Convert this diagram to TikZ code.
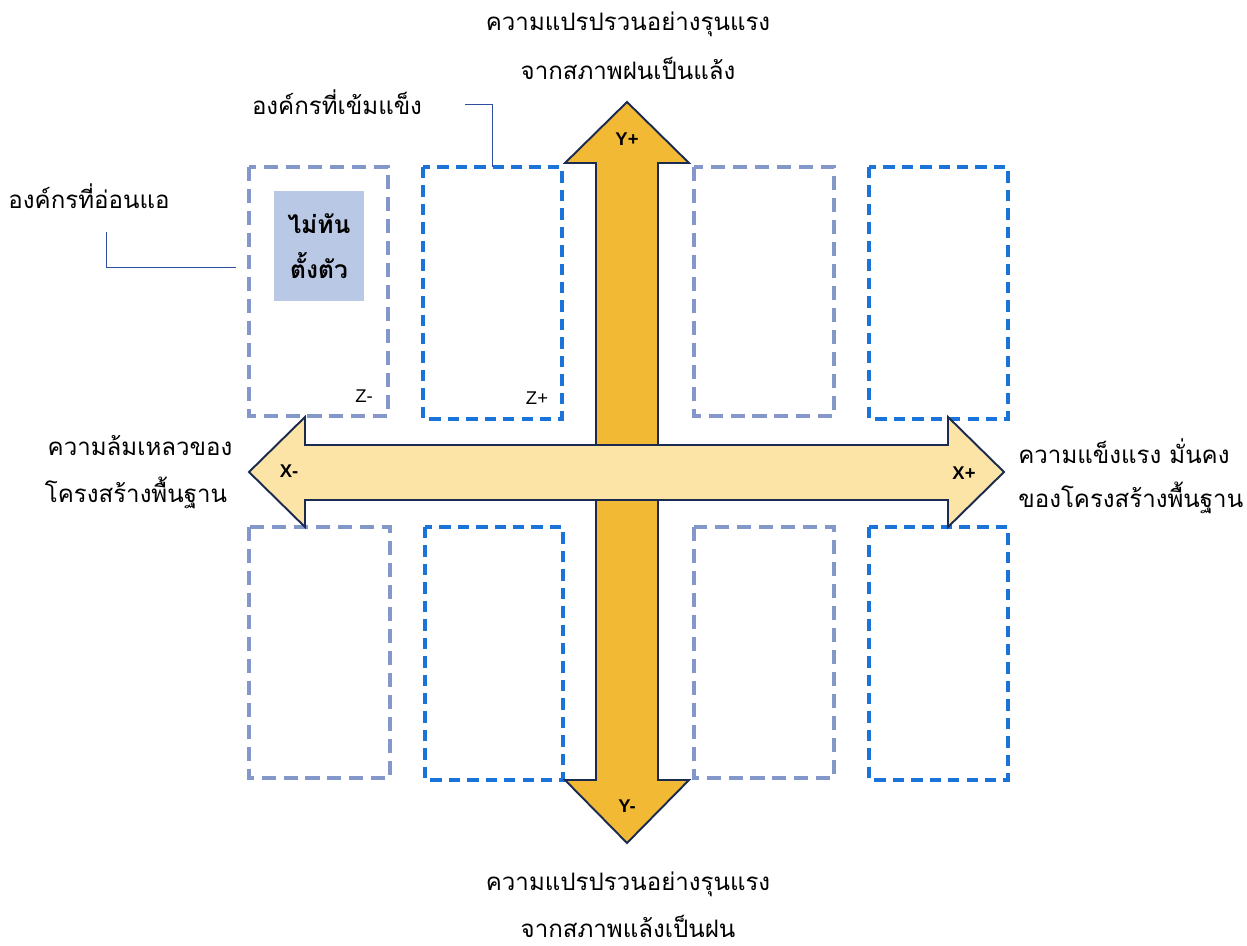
\documentclass[tikz,border=0pt]{standalone}
\usepackage{fontspec}
\newfontfamily\thai[Script=Thai]{Loma}
\newfontfamily\lat{Liberation Sans}
\definecolor{vfill}{HTML}{F2B935}
\definecolor{hfill}{HTML}{FCE4A6}
\definecolor{aline}{HTML}{1B2A50}
\definecolor{lightdash}{HTML}{8497CA}
\definecolor{bluedash}{HTML}{1A73D9}
\definecolor{greybox}{HTML}{B9C8E4}
\definecolor{callout}{HTML}{2F4FA0}
\begin{document}
\begin{tikzpicture}[x=0.02cm,y=-0.02cm,
  lightbox/.style={draw=lightdash,line width=1.8pt,dash pattern=on 8pt off 4.5pt},
  bluebox/.style={draw=bluedash,line width=2.1pt,dash pattern=on 6.5pt off 4pt},
  arrowshape/.style={draw=aline,line width=1.1pt,line join=miter},
  thaitext/.style={font=\thai\fontsize{13.7}{16}\selectfont,inner sep=0pt},
  axislabel/.style={font=\lat\bfseries\fontsize{10.5}{12}\selectfont,inner sep=0pt},
  zlabel/.style={font=\lat\fontsize{10.5}{12}\selectfont,inner sep=0pt},
  calloutline/.style={draw=callout,line width=0.5pt}]
\useasboundingbox (0,0) rectangle (1247,946);
% boxes
\draw[lightbox] (249,167) rectangle (388,416);
\draw[bluebox] (423,167) rectangle (562,419);
\draw[lightbox] (694,167) rectangle (834,416);
\draw[bluebox] (869,167) rectangle (1008,419);
\draw[lightbox] (249,527) rectangle (390,778);
\draw[bluebox] (425,527) rectangle (563,780);
\draw[lightbox] (694,527) rectangle (834,778);
\draw[bluebox] (869,527) rectangle (1008,780);
% grey box
\node[fill=greybox,minimum width=90*0.02cm,minimum height=110*0.02cm,inner sep=0pt,
  font=\thai\bfseries\fontsize{14}{26}\selectfont,align=center] (nottime) at (319,246) {ไม่ทัน\\ตั้งตัว};
% vertical arrow
\draw[arrowshape,fill=vfill] (627,102) -- (689,163) -- (658,163) -- (658,780) -- (689,780) -- (627,843)
  -- (565,780) -- (596,780) -- (596,163) -- (565,163) -- cycle;
% horizontal arrow
\draw[arrowshape,fill=hfill] (249,472) -- (305,417) -- (305,445) -- (948,445) -- (948,417) -- (1004,472)
  -- (948,527) -- (948,500) -- (305,500) -- (305,527) -- cycle;
% axis labels
\node[axislabel] (yp) at (627,139) {Y+};
\node[axislabel] (ym) at (627,806) {Y-};
\node[axislabel] (xm) at (289,471) {X-};
\node[axislabel] (xp) at (964,473) {X+};
\node[zlabel] (zm) at (364,396) {Z-};
\node[zlabel] (zp) at (537,398) {Z+};
% texts
\node[thaitext] (top1) at (628,24) {ความแปรปรวนอย่างรุนแรง};
\node[thaitext] (top2) at (628,68) {จากสภาพฝนเป็นแล้ง};
\node[thaitext] (bot1) at (628,884) {ความแปรปรวนอย่างรุนแรง};
\node[thaitext] (bot2) at (628,926) {จากสภาพแล้งเป็นฝน};
\node[thaitext] (left1) at (140,446) {ความล้มเหลวของ};
\node[thaitext] (left2) at (136,493) {โครงสร้างพื้นฐาน};
\node[thaitext,anchor=west] (right1) at (1018,451) {ความแข็งแรง มั่นคง};
\node[thaitext,anchor=west] (right2) at (1018,498) {ของโครงสร้างพื้นฐาน};
\node[thaitext] (strong) at (337,102) {องค์กรที่เข้มแข็ง};
\node[thaitext] (weak) at (89,196) {องค์กรที่อ่อนแอ};
% callouts
\coordinate (s1) at (465,104);
\coordinate (s2) at (492,167);
\draw[calloutline] (s1) -| (s2);
\coordinate (w1) at (106,232);
\coordinate (w2) at (236,267);
\draw[calloutline] (w1) |- (w2);
\end{tikzpicture}
\end{document}
